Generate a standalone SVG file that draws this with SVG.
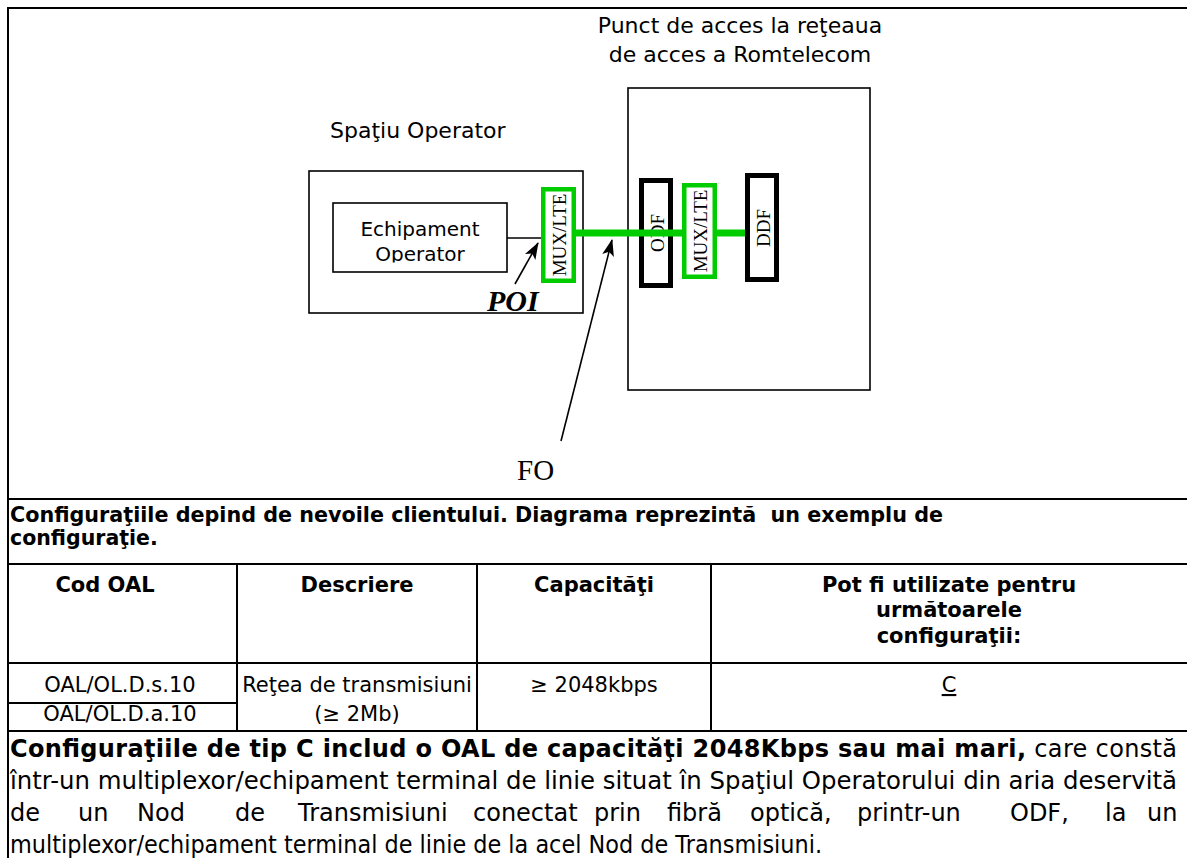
<svg xmlns="http://www.w3.org/2000/svg" width="1187" height="858" viewBox="0 0 1187 858">
<defs>
<style>
.frame{stroke:#000;stroke-width:2;fill:none}
.box{fill:#fff;stroke:#000;stroke-width:1.6}
.blk{fill:#fff;stroke:#000;stroke-width:5}
.mux{fill:#fff;stroke:#00cc00;stroke-width:4.5}
.sans{font-family:"DejaVu Sans",Verdana,sans-serif;fill:#000}
.serif{font-family:"Liberation Serif","Times New Roman",serif;fill:#000}
.lbl{font-size:22px}
.vt{font-size:19px;text-anchor:middle}
.b{font-weight:bold}
.th{font-size:21px;font-weight:bold;text-anchor:middle}
.td{font-size:21px;text-anchor:middle}
.p{font-size:24px}
.green{stroke:#00cc00;stroke-width:7;fill:none}
.thin{stroke:#000;stroke-width:1.6;fill:none}
</style>
<marker id="ah" markerWidth="17" markerHeight="12" refX="16" refY="6" orient="auto" markerUnits="userSpaceOnUse"><path d="M0,0 L17,6 L0,12 L4,6 z" fill="#000"/></marker>
<clipPath id="clipEq"><rect x="333" y="203" width="174" height="59.5"/></clipPath>
</defs>
<rect x="0" y="0" width="1187" height="858" fill="#fff"/>

<g id="frame">
<line class="frame" x1="7" y1="8" x2="1187" y2="8"/>
<line class="frame" x1="8" y1="7" x2="8" y2="858"/>
<line class="frame" x1="8" y1="499" x2="1187" y2="499"/>
<line class="frame" x1="8" y1="564" x2="1187" y2="564"/>
<line class="frame" x1="8" y1="663" x2="1187" y2="663"/>
<line class="frame" x1="8" y1="703" x2="237" y2="703"/>
<line class="frame" x1="8" y1="731" x2="1187" y2="731"/>
<line class="frame" x1="237" y1="564" x2="237" y2="731"/>
<line class="frame" x1="477" y1="564" x2="477" y2="731"/>
<line class="frame" x1="711" y1="564" x2="711" y2="731"/>
</g>

<g id="spatiu-operator">
<rect class="box" x="309" y="171" width="274" height="142"/>
<text class="sans lbl" x="330" y="138">Spaţiu Operator</text>
</g>

<g id="romtelecom">
<rect class="box" x="628" y="88" width="242" height="302"/>
<text class="sans lbl" x="740" y="33" text-anchor="middle">Punct de acces la reţeaua</text>
<text class="sans lbl" x="740" y="62" text-anchor="middle">de acces a Romtelecom</text>
</g>

<g id="echipament">
<rect class="box" x="333" y="203" width="174" height="69"/>
<g clip-path="url(#clipEq)">
<text class="sans" font-size="20" x="420" y="236" text-anchor="middle">Echipament</text>
<text class="sans" font-size="20" x="420" y="261" text-anchor="middle">Operator</text>
</g>
</g>

<g id="mux-operator">
<rect class="mux" x="543.25" y="189.25" width="30.5" height="91.5"/>
<text class="serif vt" transform="translate(559,235) rotate(-90)" x="0" y="6.5">MUX/LTE</text>
</g>

<g id="odf">
<rect class="blk" x="641.5" y="180.5" width="29" height="105"/>
<text class="serif vt" transform="translate(657,233) rotate(-90)" x="0" y="6.5" font-size="20">ODF</text>
</g>

<g id="mux-romtelecom">
<rect class="mux" x="684.25" y="185.25" width="30.5" height="91.5"/>
<text class="serif vt" transform="translate(700,231) rotate(-90)" x="0" y="6.5">MUX/LTE</text>
</g>

<g id="ddf">
<rect class="blk" x="747.5" y="175.5" width="29" height="104"/>
<text class="serif vt" transform="translate(763,228) rotate(-90)" x="0" y="7" font-size="20">DDF</text>
</g>

<g id="connectors">
<line class="thin" x1="507" y1="238" x2="541" y2="238"/>
<line class="green" x1="576" y1="233" x2="682" y2="233"/>
<line class="green" x1="717" y1="233" x2="745" y2="233"/>
<line class="thin" x1="515" y1="284" x2="538" y2="243" marker-end="url(#ah)"/>
<line class="thin" x1="561" y1="441" x2="612" y2="240" marker-end="url(#ah)"/>
</g>

<g id="poi-label">
<text class="serif" font-size="30" font-weight="bold" font-style="italic" x="487" y="311">POI</text>
</g>
<g id="fo-label">
<text class="serif" font-size="29" x="517" y="480">FO</text>
</g>

<g id="table">
<text class="sans b" font-size="20.5" x="10" y="522" xml:space="preserve" textLength="933" lengthAdjust="spacingAndGlyphs">Configuraţiile depind de nevoile clientului. Diagrama reprezintă  un exemplu de</text>
<text class="sans b" font-size="20.5" x="10" y="545">configuraţie.</text>
<text class="sans th" x="105" y="592">Cod OAL</text>
<text class="sans th" x="357" y="592">Descriere</text>
<text class="sans th" x="594" y="592">Capacităţi</text>
<text class="sans th" x="949" y="592">Pot fi utilizate pentru</text>
<text class="sans th" x="949" y="617">următoarele</text>
<text class="sans th" x="949" y="643">configuraţii:</text>
<text class="sans td" x="120" y="692">OAL/OL.D.s.10</text>
<text class="sans td" x="120" y="721">OAL/OL.D.a.10</text>
<text class="sans td" x="357" y="692">Reţea de transmisiuni</text>
<text class="sans td" x="357" y="721">(≥ 2Mb)</text>
<text class="sans td" x="594" y="692">≥ 2048kbps</text>
<text class="sans td" x="949" y="692" text-decoration="underline">C</text>
</g>

<g id="paragraph">
<text class="sans p" x="10" y="757" textLength="1167" lengthAdjust="spacing"><tspan font-weight="bold">Configuraţiile de tip C includ o OAL de capacităţi 2048Kbps sau mai mari,</tspan> care constă</text>
<text class="sans p" x="10" y="789" textLength="1167" lengthAdjust="spacingAndGlyphs">într-un multiplexor/echipament terminal de linie situat în Spaţiul Operatorului din aria deservită</text>
<text class="sans p" y="821"><tspan x="10">de</tspan><tspan x="78">un</tspan><tspan x="137">Nod</tspan><tspan x="235">de</tspan><tspan x="298">Transmisiuni</tspan><tspan x="473">conectat</tspan><tspan x="594">prin</tspan><tspan x="667">fibră</tspan><tspan x="750">optică,</tspan><tspan x="857">printr-un</tspan><tspan x="1010">ODF,</tspan><tspan x="1105">la</tspan><tspan x="1147">un</tspan></text>
<text class="sans p" x="10" y="853" textLength="812" lengthAdjust="spacingAndGlyphs">multiplexor/echipament terminal de linie de la acel Nod de Transmisiuni.</text>
</g>
</svg>
